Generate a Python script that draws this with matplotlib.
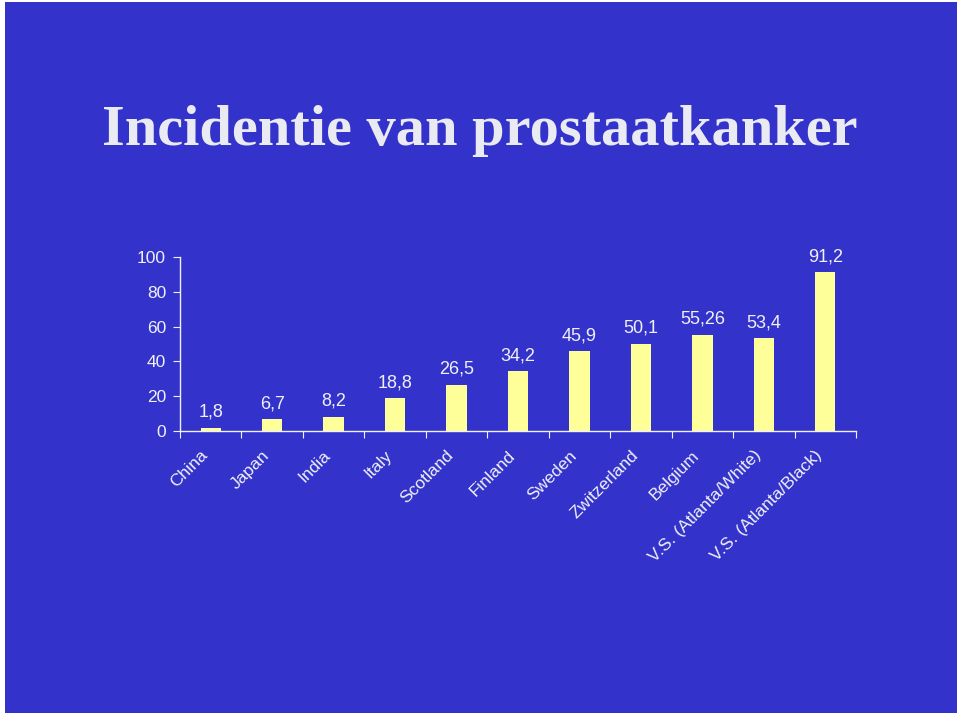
import matplotlib
matplotlib.use('Agg')
import matplotlib.pyplot as plt
from matplotlib.patches import Rectangle
import numpy as np

countries = ['China', 'Japan', 'India', 'Italy', 'Scotland', 'Finland', 'Sweden',
             'Zwitzerland', 'Belgium', 'V.S. (Atlanta/White)', 'V.S. (Atlanta/Black)']
incidence = [1.8, 6.7, 8.2, 18.8, 26.5, 34.2, 45.9, 50.1, 55.26, 53.4, 91.2]
value_labels = ['1,8', '6,7', '8,2', '18,8', '26,5', '34,2', '45,9', '50,1', '55,26', '53,4', '91,2']
yticks = [0, 20, 40, 60, 80, 100]

bg = '#3333CC'
fg = '#F0F0F5'
bar_col = '#FFFF99'

fig = plt.figure(figsize=(9.6, 7.16), dpi=100, facecolor='white')
fig.patches.append(Rectangle((5/960, 3/716), 952/960, 711/716, transform=fig.transFigure,
                             facecolor=bg, edgecolor='none', zorder=-10))

fig.text(0.5, 1 - 131/716, 'Incidentie van prostaatkanker', ha='center', va='center',
         fontsize=42, fontweight='bold', family='Liberation Serif', color='#EAEAF2')

ax = fig.add_axes([180/960, 285/716, 676/960, 174/716])
ax.set_facecolor('none')

x = np.arange(len(countries))
ax.bar(x, incidence, width=0.33, color=bar_col, edgecolor='none', zorder=2)

for xi, v, lab in zip(x, incidence, value_labels):
    ax.annotate(lab, (xi, v), xytext=(0, 5), textcoords='offset points', ha='center', va='bottom',
                fontsize=13, color=fg, family='Liberation Sans', annotation_clip=False)

ax.set_xlim(-0.5, len(countries) - 0.5)
ax.set_ylim(0, 100)
ax.set_yticks(yticks)
ax.set_yticklabels([str(t) for t in yticks], family='Liberation Sans', fontsize=12.5, color=fg)

ax.set_xticks(np.arange(-0.5, len(countries)), labels=[''] * (len(countries) + 1))
ax.set_xticks(x, minor=True)
ax.set_xticklabels(countries, minor=True, rotation=45, ha='right', va='top',
                   family='Liberation Sans', fontsize=12.5, color=fg)
ax.tick_params(axis='x', which='major', length=5, color=fg, direction='out')
ax.tick_params(axis='x', which='minor', length=0, pad=12)
ax.tick_params(axis='y', length=5, color=fg, direction='out', pad=5)

for s in ['top', 'right']:
    ax.spines[s].set_visible(False)
for s in ['left', 'bottom']:
    ax.spines[s].set_color(fg)
    ax.spines[s].set_linewidth(1)

fig.savefig('out.png', dpi=100, facecolor='white')
